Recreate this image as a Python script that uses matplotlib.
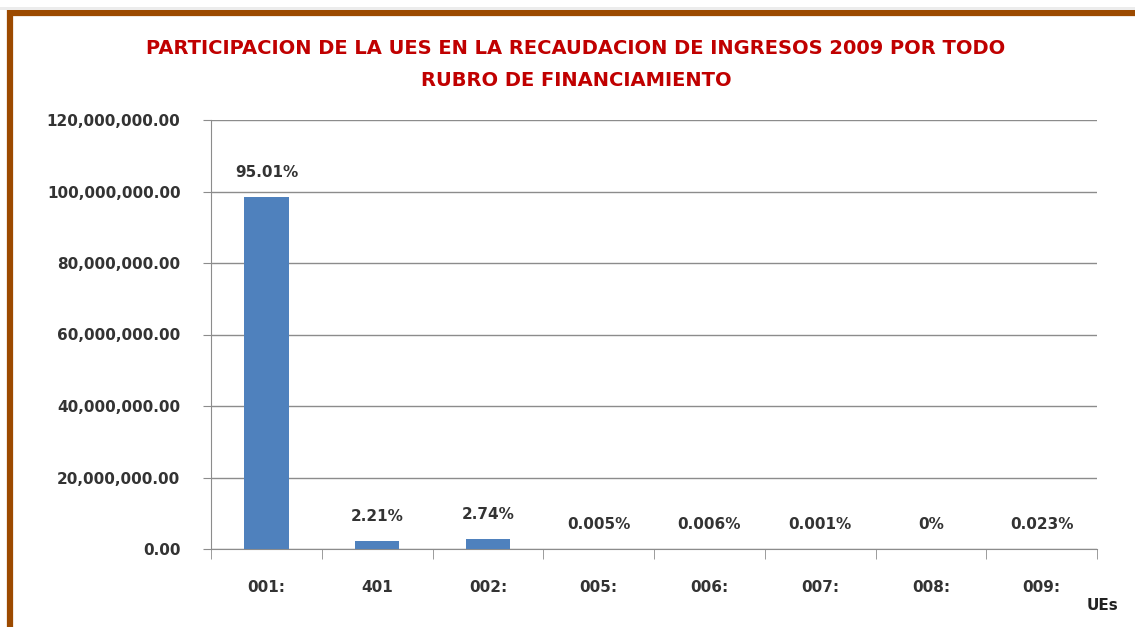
import matplotlib.pyplot as plt
from matplotlib.patches import Rectangle
import numpy as np

plt.rcParams['font.family'] = ['DejaVu Sans']

categories = ['001:', '401', '002:', '005:', '006:', '007:', '008:', '009:']
values = [98500000, 2290000, 2840000, 5185, 6220, 1037, 0, 23850]
pct_labels = ['95.01%', '2.21%', '2.74%', '0.005%', '0.006%', '0.001%', '0%', '0.023%']
yticks = [0, 20000000, 40000000, 60000000, 80000000, 100000000, 120000000]

W, H = 1135, 627
fig = plt.figure(figsize=(W / 100, H / 100), dpi=100)

# brown frame (only top and left visible, rest runs off the picture)
fig.patches.append(Rectangle((10 / W, -0.2), 1.2, 1.2 - 13 / H, transform=fig.transFigure,
                             fill=False, edgecolor='#9C4A00', linewidth=4.5, zorder=0))
fig.patches.append(Rectangle((0, 1 - 10 / H), 1, 3 / H, transform=fig.transFigure,
                             facecolor='#ececec', edgecolor='none', zorder=0))

ax = fig.add_axes([211 / W, 1 - 549 / H, (1097 - 211) / W, (549 - 120) / H])
x = np.arange(len(categories))
ax.bar(x, values, width=0.4, color='#4F81BD', zorder=3)

ax.set_xlim(-0.5, len(categories) - 0.5)
ax.set_ylim(0, 120000000)
ax.set_yticks(yticks)
ax.set_yticklabels(['{:,.2f}'.format(v) for v in yticks])
ax.set_xticks(x)
ax.set_xticklabels(categories)
ax.set_xticks(np.arange(len(categories) + 1) - 0.5, minor=True)

ax.grid(axis='y', color='#8c8c8c', linewidth=1, zorder=0)
for s in ['top', 'right']:
    ax.spines[s].set_visible(False)
for s in ['left', 'bottom']:
    ax.spines[s].set_color('#8c8c8c')
ax.tick_params(axis='x', which='major', length=0, pad=22)
ax.tick_params(axis='x', which='minor', length=7, color='#8c8c8c')
ax.tick_params(axis='y', length=6, color='#8c8c8c', pad=16)
for lab in ax.get_xticklabels() + ax.get_yticklabels():
    lab.set_fontsize(11)
    lab.set_fontweight('bold')
    lab.set_color('#333333')

for xi, v, t in zip(x, values, pct_labels):
    ax.annotate(t, (xi, v), xytext=(0, 12), textcoords='offset points', ha='center',
                va='bottom', fontsize=11, fontweight='bold', color='#333333')

fig.text(576 / W, 1 - 48 / H, 'PARTICIPACION DE LA UES EN LA RECAUDACION DE INGRESOS 2009 POR TODO',
         ha='center', va='center', fontsize=14, fontweight='bold', color='#C00000')
fig.text(576 / W, 1 - 80 / H, 'RUBRO DE FINANCIAMIENTO',
         ha='center', va='center', fontsize=14, fontweight='bold', color='#C00000')
fig.text(1102 / W, 1 - 605 / H, 'UEs', ha='center', va='center', fontsize=11,
         fontweight='bold', color='#222222')

fig.savefig('out.png', dpi=100)
